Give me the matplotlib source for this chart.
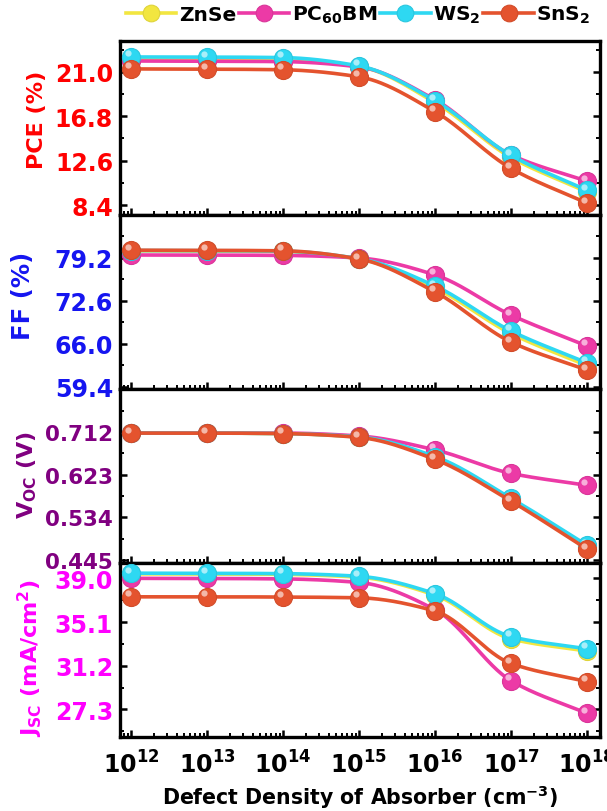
import numpy as np
import matplotlib
matplotlib.use("Agg")
import matplotlib.pyplot as plt
import matplotlib.transforms as mtransforms
from matplotlib.lines import Line2D
from matplotlib.ticker import FixedLocator, FixedFormatter, LogLocator, NullFormatter, AutoMinorLocator

plt.rcParams['font.family'] = ['DejaVu Sans']
plt.rcParams['font.weight'] = 'bold'
plt.rcParams['mathtext.default'] = 'bf'
plt.rcParams['axes.labelweight'] = 'bold'

# ---------------- data ----------------
defect_density = [1e12, 1e13, 1e14, 1e15, 1e16, 1e17, 1e18]
series_names = ["ZnSe", "PC$_{60}$BM", "WS$_2$", "SnS$_2$"]
series_colors = ["#F2E640", "#EC3AA6", "#2ED8F2", "#E4532E"]

pce_znse   = [22.20, 22.18, 22.13, 21.50, 18.10, 12.90, 9.65]
pce_pcbm   = [22.03, 22.01, 21.97, 21.47, 18.37, 13.15, 10.65]
pce_ws2    = [22.41, 22.40, 22.35, 21.56, 18.27, 13.10, 9.80]
pce_sns2   = [21.28, 21.26, 21.20, 20.53, 17.24, 11.87, 8.58]

ff_znse    = [80.30, 80.28, 80.20, 79.05, 74.60, 67.60, 62.70]
ff_pcbm    = [79.66, 79.65, 79.60, 79.20, 76.60, 70.45, 65.70]
ff_ws2     = [80.35, 80.33, 80.25, 79.10, 74.90, 68.00, 63.10]
ff_sns2    = [80.40, 80.38, 80.30, 79.05, 74.00, 66.30, 62.00]

voc_znse   = [0.710, 0.710, 0.709, 0.702, 0.659, 0.571, 0.472]
voc_pcbm   = [0.710, 0.710, 0.710, 0.704, 0.675, 0.626, 0.601]
voc_ws2    = [0.710, 0.710, 0.709, 0.702, 0.661, 0.574, 0.476]
voc_sns2   = [0.710, 0.710, 0.709, 0.701, 0.655, 0.568, 0.468]

jsc_znse   = [39.40, 39.39, 39.35, 39.10, 37.50, 33.60, 32.50]
jsc_pcbm   = [39.00, 38.99, 38.95, 38.63, 36.20, 29.86, 26.93]
jsc_ws2    = [39.46, 39.45, 39.42, 39.18, 37.63, 33.80, 32.70]
jsc_sns2   = [37.35, 37.35, 37.33, 37.26, 36.08, 31.40, 29.77]

panels = [
    ("PCE (%)", "#FF0000", [pce_znse, pce_pcbm, pce_ws2, pce_sns2], [8.4, 12.6, 16.8, 21.0], ["8.4", "12.6", "16.8", "21.0"], (7.46, 23.92)),
    ("FF (%)", "#1515F0", [ff_znse, ff_pcbm, ff_ws2, ff_sns2], [59.4, 66.0, 72.6, 79.2], ["59.4", "66.0", "72.6", "79.2"], (59.09, 85.8)),
    ("V$_{OC}$ (V)", "#800080", [voc_znse, voc_pcbm, voc_ws2, voc_sns2], [0.445, 0.534, 0.623, 0.712], ["0.445", "0.534", "0.623", "0.712"], (0.439, 0.802)),
    ("J$_{SC}$ (mA/cm$^{2}$)", "#FF00FF", [jsc_znse, jsc_pcbm, jsc_ws2, jsc_sns2], [27.3, 31.2, 35.1, 39.0], ["27.3", "31.2", "35.1", "39.0"], (24.83, 40.37)),
]
x_ticks = [1e12, 1e13, 1e14, 1e15, 1e16, 1e17, 1e18]
x_ticklabels = ["$10^{12}$", "$10^{13}$", "$10^{14}$", "$10^{15}$", "$10^{16}$", "$10^{17}$", "$10^{18}$"]
x_label = "Defect Density of Absorber (cm$^{-3}$)"

# per-panel layout of the y labels / tick label sizes
ylabel_pos = [(-0.152, 0.55), (-0.178, 0.54), (-0.168, 0.51), (-0.156, 0.46)]
ylabel_size = [16, 17.5, 16, 16]
ytick_size = [17, 17, 15.5, 17]


def pchip(xk, yk, xs):
    xk = np.asarray(xk, float); yk = np.asarray(yk, float)
    h = np.diff(xk); d = np.diff(yk) / h
    n = len(xk); m = np.zeros(n)
    for i in range(1, n - 1):
        if d[i - 1] * d[i] <= 0:
            m[i] = 0
        else:
            w1 = 2 * h[i] + h[i - 1]; w2 = h[i] + 2 * h[i - 1]
            m[i] = (w1 + w2) / (w1 / d[i - 1] + w2 / d[i])
    m[0] = d[0]; m[-1] = d[-1]
    out = np.empty_like(xs)
    for j, x in enumerate(xs):
        i = min(max(np.searchsorted(xk, x) - 1, 0), n - 2)
        t = (x - xk[i]) / h[i]
        h00 = 2 * t**3 - 3 * t**2 + 1; h10 = t**3 - 2 * t**2 + t
        h01 = -2 * t**3 + 3 * t**2; h11 = t**3 - t**2
        out[j] = h00 * yk[i] + h10 * h[i] * m[i] + h01 * yk[i + 1] + h11 * h[i] * m[i + 1]
    return out


def lighten(c, f):
    rgb = np.array(matplotlib.colors.to_rgb(c))
    return tuple(rgb + (1 - rgb) * f)


def darken(c, f):
    rgb = np.array(matplotlib.colors.to_rgb(c))
    return tuple(rgb * (1 - f))


fig = plt.figure(figsize=(6.07, 8.12), dpi=100)
top, bottom = 1 - 42 / 812, 1 - 738 / 812
left, right = 120 / 607, 600 / 607
ph = (top - bottom) / 4
axes = []
for k in range(4):
    ax = fig.add_axes([left, top - (k + 1) * ph, right - left, ph])
    axes.append(ax)

lx = np.log10(defect_density)
xs_log = np.linspace(lx[0], lx[-1], 300)
xs = 10 ** xs_log

for k, (ylab, col, data, yt, ytl, ylim) in enumerate(panels):
    ax = axes[k]
    ax.set_xscale('log')
    for s in range(4):
        ys = pchip(lx, data[s], xs_log)
        ax.plot(xs, ys, color=series_colors[s], lw=2.6, zorder=2 + s, solid_capstyle='round')
        ax.plot(defect_density, data[s], ls='none', marker='o', ms=13,
                mfc=series_colors[s], mec=darken(series_colors[s], 0.08), mew=0.8, zorder=2.5 + s)
        off = mtransforms.ScaledTranslation(-2.5 / 72, 2.5 / 72, fig.dpi_scale_trans)
        ax.plot(defect_density, data[s], ls='none', marker='o', ms=4.5,
                mfc=lighten(series_colors[s], 0.7), mec='none', alpha=0.85,
                transform=ax.transData + off, zorder=2.6 + s)
    ax.set_xlim(10 ** (12 - 11 / 76), 10 ** (18 + 13 / 76))
    ax.set_ylim(*ylim)
    ax.yaxis.set_major_locator(FixedLocator(yt))
    ax.yaxis.set_major_formatter(FixedFormatter(ytl))
    ax.yaxis.set_minor_locator(AutoMinorLocator(2))
    ax.xaxis.set_major_locator(FixedLocator(x_ticks))
    ax.xaxis.set_minor_locator(LogLocator(base=10, subs=np.arange(2, 10), numticks=20))
    ax.xaxis.set_minor_formatter(NullFormatter())
    if k == 3:
        ax.xaxis.set_major_formatter(FixedFormatter(x_ticklabels))
        ax.set_xlabel(x_label, fontsize=14.8, fontweight='bold', labelpad=3)
    else:
        ax.xaxis.set_major_formatter(NullFormatter())
    ax.tick_params(axis='both', which='major', direction='in', length=5, width=1.8,
                   right=True, top=False)
    ax.tick_params(axis='both', which='minor', direction='in', length=3, width=1.4,
                   right=True, top=False)
    ax.tick_params(axis='y', which='major', labelcolor=col, pad=5, labelsize=ytick_size[k])
    ax.tick_params(axis='x', which='major', pad=10, labelsize=17)
    for sp in ax.spines.values():
        sp.set_linewidth(2.4)
    ax.set_ylabel(ylab, color=col, fontsize=ylabel_size[k], fontweight='bold')
    ax.yaxis.set_label_coords(*ylabel_pos[k])

handles = [Line2D([], [], color=series_colors[s], lw=2.6, marker='o', ms=12,
                  mfc=series_colors[s], mec=darken(series_colors[s], 0.08), mew=0.8)
           for s in range(4)]
fig.legend(handles, series_names, loc='center', bbox_to_anchor=(0.59, 0.981), ncol=4,
           frameon=False, fontsize=14.5, handlelength=2.5, handletextpad=0.12,
           columnspacing=0.15, borderaxespad=0, borderpad=0)

fig.savefig("out.png", dpi=100)
